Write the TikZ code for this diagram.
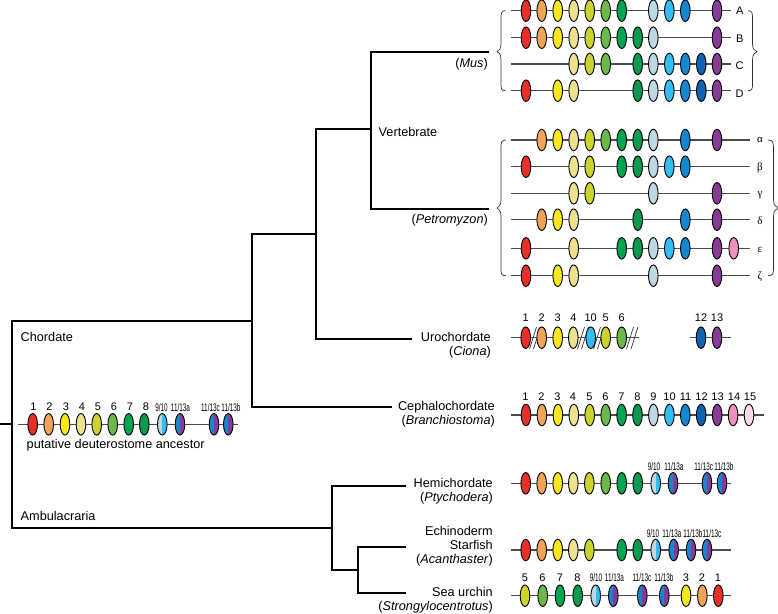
\documentclass[tikz,border=0pt]{standalone}
\usepackage{fontspec}
\usepackage{graphicx}
\setmainfont{Liberation Sans}
\newfontfamily\grk{Liberation Serif}
\usetikzlibrary{shapes.geometric}
\definecolor{cRed}{HTML}{E8302A}
\definecolor{cOra}{HTML}{F0A45A}
\definecolor{cYel}{HTML}{F7E81E}
\definecolor{cPal}{HTML}{EDE08F}
\definecolor{cLim}{HTML}{CCD22E}
\definecolor{cGrn}{HTML}{6DB84A}
\definecolor{cEme}{HTML}{00A551}
\definecolor{cDkg}{HTML}{0B9A50}
\definecolor{cIce}{HTML}{BDD7E5}
\definecolor{cCya}{HTML}{33BDF0}
\definecolor{cBlu}{HTML}{1487D0}
\definecolor{cNav}{HTML}{0F64B0}
\definecolor{cPur}{HTML}{863B96}
\definecolor{cPnk}{HTML}{EE90BE}
\definecolor{cLpk}{HTML}{F7DDE2}
\tikzset{
  branch/.style={draw=black,line width=2pt,line cap=rect,line join=miter},
  locus/.style={draw=black!70,line width=1.25pt},
  brace/.style={draw=black!80,line width=0.7pt},
  breakmark/.style={draw=black!80,line width=0.7pt},
  gene/.style={ellipse,draw=black,line width=0.9pt,minimum width=9.6pt,minimum height=21.6pt,inner sep=0pt,outer sep=0pt},
  halfgene/.style n args={2}{gene,fill=#1,path picture={\fill[#2] (path picture bounding box.north) rectangle (path picture bounding box.south east);}},
  taxon/.style={font=\fontsize{12.7}{14.2}\selectfont,align=right,anchor=east,inner sep=0pt},
  clade/.style={font=\fontsize{12.7}{14}\selectfont,anchor=west,inner sep=0pt},
  num/.style={font=\fontsize{11}{12}\selectfont,inner sep=0pt},
  small/.style={font=\fontsize{11}{12}\selectfont,inner sep=0pt},
  para/.style={font=\fontsize{11}{12}\selectfont,inner sep=0pt},
  greek/.style={font=\fontsize{11}{12}\selectfont\grk,inner sep=0pt},
}
\newcommand{\cnd}[1]{\scalebox{0.58}[1]{#1}}
% row: name, y, x-start, x-end, list of x/colour
\newcommand{\generow}[5]{%
  \coordinate (#1L) at (#3,#2);\coordinate (#1R) at (#4,#2);
  \draw[locus] (#1L) -- (#1R);
  \foreach \gx/\gc [count=\gi] in {#5}{\node[gene,fill=\gc] (#1g\gi) at (\gx,#2) {};}%
}
\newcommand{\nine}[3]{\node[halfgene={cIce}{cCya}] (#1) at (#2,#3) {};}
\newcommand{\elev}[3]{\node[halfgene={cBlu}{cPur}] (#1) at (#2,#3) {};}
\begin{document}
\begin{tikzpicture}[x=1pt,y=-1pt]
\useasboundingbox (0,0) rectangle (778,613);
\fill[white] (0,0) rectangle (778,613);
% tree
\coordinate (root) at (0,424);
\coordinate (rootJ) at (12,424);
\coordinate (chordJ) at (12,321);
\coordinate (ambuJ) at (12,528.3);
\coordinate (chordK) at (252,321);
\coordinate (olfT) at (252,234);
\coordinate (olfB) at (252,406.7);
\coordinate (cephE) at (390.7,406.7);
\coordinate (olfK) at (316,234);
\coordinate (vertK) at (316,129.3);
\coordinate (uroK) at (316,339.3);
\coordinate (uroE) at (410.7,339.3);
\coordinate (vertJ) at (371,129.3);
\coordinate (musK) at (371,51.7);
\coordinate (musE) at (488,51.7);
\coordinate (petK) at (371,209.3);
\coordinate (petE) at (488,209.3);
\coordinate (ambuK) at (332,528.3);
\coordinate (hemK) at (332,486);
\coordinate (hemE) at (405,486);
\coordinate (echJ) at (332,570);
\coordinate (echK) at (357.7,570);
\coordinate (staK) at (357.7,547.3);
\coordinate (staE) at (405,547.3);
\coordinate (seaK) at (357.7,593.3);
\coordinate (seaE) at (405,593.3);
\draw[branch] (root) -- (rootJ);
\draw[branch] (ambuK) -- (ambuJ) -- (chordJ) -- (chordK);
\draw[branch] (olfK) -- (olfT) -- (olfB) -- (cephE);
\draw[branch] (vertJ) -- (vertK) -- (uroK) -- (uroE);
\draw[branch] (musE) -- (musK) -- (petK) -- (petE);
\draw[branch] (hemE) -- (hemK) -- (echJ) -- (echK);
\draw[branch] (staE) -- (staK) -- (seaK) -- (seaE);
% clade labels
\node[clade] (lChord) at (20.5,337) {Chordate};
\node[clade] (lAmbu) at (20.5,516) {Ambulacraria};
\node[clade] (lVert) at (378.5,132) {Vertebrate};
\node[clade] (lPut) at (26.5,445) {putative deuterostome ancestor};
\node[taxon] (lMus) at (488,64.5) {(\textit{Mus})};
\node[taxon] (lPet) at (488,220.5) {(\textit{Petromyzon})};
\node[taxon] (lUro) at (491,345.5) {Urochordate\\(\textit{Ciona})};
\node[taxon] (lCep) at (495,414.5) {Cephalochordate\\(\textit{Branchiostoma})};
\node[taxon] (lHem) at (493,491) {Hemichordate\\(\textit{Ptychodera})};
\node[taxon] (lEch) at (493,546) {Echinoderm\\Starfish\\(\textit{Acanthaster})};
\node[taxon] (lSea) at (493,600) {Sea urchin\\(\textit{Strongylocentrotus})};
% Mus
\generow{A}{10.7}{511}{730.7}{526/cRed,541.7/cOra,557.7/cYel,573.7/cPal,589.7/cLim,605.7/cGrn,621.7/cEme,653.3/cIce,669.3/cCya,685.3/cBlu,717/cPur}
\generow{B}{37.7}{511}{730.7}{526/cRed,541.7/cOra,557.7/cYel,573.7/cPal,589.7/cLim,605.7/cGrn,621.7/cEme,637.7/cDkg,653.3/cIce,717/cPur}
\generow{C}{64}{511}{730.7}{573.7/cPal,589.7/cLim,605.7/cGrn,637.7/cDkg,653.3/cIce,669.3/cCya,685.3/cBlu,701.3/cNav,717/cPur}
\generow{D}{90.7}{511}{730.7}{526/cRed,557.7/cYel,573.7/cPal,637.7/cDkg,653.3/cIce,669.3/cCya,685.3/cBlu,701.3/cNav,717/cPur}
\node[para] (tA) at (739.7,11) {A};
\node[para] (tB) at (739.7,38.3) {B};
\node[para] (tC) at (739.7,66) {C};
\node[para] (tD) at (739.7,94) {D};
% Petromyzon
\generow{Pa}{140}{511}{750}{541.7/cOra,557.7/cYel,573.7/cPal,589.7/cLim,605.7/cGrn,621.7/cEme,637.7/cDkg,653.3/cIce,685.3/cBlu,717/cPur}
\generow{Pb}{166.7}{511}{750}{526/cRed,573.7/cPal,589.7/cLim,621.7/cEme,637.7/cDkg,653.3/cIce,669.3/cCya,685.3/cBlu}
\generow{Pc}{193.3}{511}{750}{573.7/cPal,589.7/cLim,653.3/cIce,717/cPur}
\generow{Pd}{219.7}{511}{750}{541.7/cOra,557.7/cYel,573.7/cPal,637.7/cDkg,685.3/cBlu,717/cPur}
\generow{Pe}{248.3}{511}{750}{526/cRed,573.7/cPal,621.7/cEme,637.7/cDkg,653.3/cIce,669.3/cCya,685.3/cBlu,717/cPur,733.7/cPnk}
\generow{Pf}{275.7}{511}{750}{526/cRed,557.7/cYel,573.7/cPal,653.3/cIce,717/cPur}
\node[greek] (ta) at (760,139.5) {α};
\node[greek] (tb) at (760,167.5) {β};
\node[greek] (tc) at (760,195) {γ};
\node[greek] (td) at (760,221) {δ};
\node[greek] (te) at (760,250) {ε};
\node[greek] (tf) at (760,277) {ζ};
% braces
\coordinate (bA) at (505.7,10.7);\coordinate (bB) at (505.7,90.7);\coordinate (bT) at (497,51.7);
\draw[brace] (bA) .. controls (501,10.7) and (501,13) .. (501,20) -- (501,44) .. controls (501,49) and (499,51) .. (bT) .. controls (499,52.5) and (501,54) .. (501,60) -- (501,82) .. controls (501,89) and (501,90.7) .. (bB);
\coordinate (cA) at (748,10.7);\coordinate (cB) at (748,90.7);\coordinate (cT) at (757,51.7);
\draw[brace] (cA) .. controls (752.5,10.7) and (752.5,13) .. (752.5,20) -- (752.5,44) .. controls (752.5,49) and (755,51) .. (cT) .. controls (755,52.5) and (752.5,54) .. (752.5,60) -- (752.5,82) .. controls (752.5,89) and (752.5,90.7) .. (cB);
\coordinate (dA) at (506,140);\coordinate (dB) at (506,275.7);\coordinate (dT) at (497,208);
\draw[brace] (dA) .. controls (501,140) and (501,142) .. (501,150) -- (501,200) .. controls (501,205) and (499,207) .. (dT) .. controls (499,209) and (501,211) .. (501,216) -- (501,267) .. controls (501,274) and (501,275.7) .. (dB);
\coordinate (eA) at (768,140);\coordinate (eB) at (768,275.7);\coordinate (eT) at (778,208);
\draw[brace] (eA) .. controls (773,140) and (773.5,142) .. (773.5,150) -- (773.5,200) .. controls (773.5,205) and (776,207) .. (eT) .. controls (776,209) and (773.5,211) .. (773.5,216) -- (773.5,267) .. controls (773.5,274) and (773,275.7) .. (eB);
% Ciona
\foreach \sx [count=\si] in {533,537,581,585,597,601,630,634.5}{%
  \coordinate (sl\si a) at (\sx-3.5,349);\coordinate (sl\si b) at (\sx+3.5,327);
  \draw[breakmark] (sl\si a) -- (sl\si b);}
\generow{U}{337.7}{511}{639}{525.7/cRed,541.7/cOra,557.7/cYel,573.3/cPal,590.7/cCya,605.7/cLim,621.7/cGrn}
\generow{V}{337.7}{690}{731}{701/cNav,717/cPur}
\foreach \lx/\lt [count=\li] in {525.7/1,541.7/2,557.7/3,573.3/4,590.7/10,605.7/5,621.7/6,701/12,717/13}{\node[num] (un\li) at (\lx,318) {\lt};}
% Cephalochordate
\generow{W}{415}{511}{764}{526/cRed,541.9/cOra,557.9/cYel,573.8/cPal,589.7/cLim,605.7/cGrn,621.6/cEme,637.5/cDkg,653.4/cIce,669.4/cCya,685.3/cBlu,701.2/cNav,717.2/cPur,733.1/cPnk,749/cLpk}
\foreach \lx/\lt [count=\li] in {525.5/1,541.5/2,557.5/3,573/4,589.5/5,605.5/6,621.5/7,637.5/8,653.5/9,669.5/10,685.5/11,701.5/12,717.5/13,734/14,750/15}{\node[num] (cn\li) at (\lx,396.5) {\lt};}
% Hemichordate
\generow{H}{483.3}{511}{731}{525.7/cRed,541.7/cOra,557.7/cYel,573.3/cPal,589.3/cLim,605.7/cGrn,621.7/cEme,637.7/cDkg}
\nine{Hn}{655.7}{483.3}\elev{Ha}{673}{483.3}\elev{Hc}{707}{483.3}\elev{Hb}{722}{483.3}
\node[small] (hl1) at (654,466.7) {\cnd{9/10}};
\node[small] (hl2) at (674,466.7) {\cnd{11/13a}};
\node[small] (hl3) at (703.7,466.7) {\cnd{11/13c}};
\node[small] (hl4) at (724,466.7) {\cnd{11/13b}};
% Echinoderm
\generow{E}{550}{511}{731}{525.7/cRed,541.7/cOra,557.7/cYel,573.3/cPal,589.3/cLim,621.7/cEme,637.7/cDkg}
\nine{En}{655.7}{550}\elev{Ea}{673.7}{550}\elev{Eb}{691}{550}\elev{Ec}{707}{550}
\node[small] (el1) at (653,534) {\cnd{9/10}};
\node[small] (el2) at (672,534) {\cnd{11/13a}};
\node[small] (el3) at (693,534) {\cnd{11/13b}};
\node[small] (el4) at (712,534) {\cnd{11/13c}};
% Sea urchin
\generow{S}{595.7}{511}{731}{525/cLim,542.7/cGrn,560/cEme,577.7/cDkg,686/cYel,702.3/cOra,718.3/cRed}
\nine{Sn}{595.7}{595.7}\elev{Sa}{613.3}{595.7}\elev{Sc}{642.3}{595.7}\elev{Sb}{664.3}{595.7}
\foreach \lx/\lt [count=\li] in {525/5,542.5/6,560/7,577.5/8,686/3,702/2,718/1}{\node[num] (sn\li) at (\lx,577.5) {\lt};}
\node[small] (sl1x) at (596,577.7) {\cnd{9/10}};
\node[small] (sl2x) at (614.5,577.7) {\cnd{11/13a}};
\node[small] (sl3x) at (642,577.7) {\cnd{11/13c}};
\node[small] (sl4x) at (664,577.7) {\cnd{11/13b}};
% Ancestor
\generow{N}{424.3}{18}{238}{32.7/cRed,48.7/cOra,65/cYel,81/cPal,96.7/cLim,112.7/cGrn,128.7/cEme,144.3/cDkg}
\nine{Nn}{162.3}{424.3}\elev{Na}{180}{424.3}\elev{Nc}{214}{424.3}\elev{Nb}{228.3}{424.3}
\foreach \lx/\lt [count=\li] in {33.5/1,49.5/2,66/3,82/4,98/5,114/6,130/7,146/8}{\node[num] (an\li) at (\lx,407) {\lt};}
\node[small] (al1) at (161.5,407.5) {\cnd{9/10}};
\node[small] (al2) at (180.5,407.5) {\cnd{11/13a}};
\node[small] (al3) at (210.5,407.5) {\cnd{11/13c}};
\node[small] (al4) at (231,407.5) {\cnd{11/13b}};
\end{tikzpicture}
\end{document}
